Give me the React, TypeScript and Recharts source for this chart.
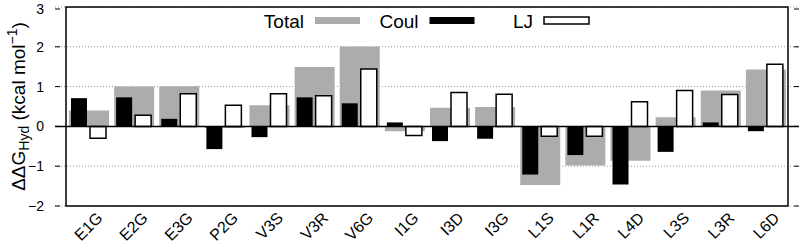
import {
    ComposedChart,
    Bar,
    XAxis,
    YAxis,
    CartesianGrid,
    ReferenceLine,
    ReferenceArea,
    Legend,
    Label
} from 'recharts';

const categories = ['E1G', 'E2G', 'E3G', 'P2G', 'V3S', 'V3R', 'V6G', 'I1G', 'I3D', 'I3G', 'L1S', 'L1R', 'L4D', 'L3S', 'L3R', 'L6D'];
const total = [0.40, 1.00, 1.01, -0.04, 0.53, 1.49, 2.01, -0.12, 0.47, 0.49, -1.47, -0.98, -0.86, 0.23, 0.90, 1.43];
const coul = [0.71, 0.73, 0.19, -0.57, -0.27, 0.73, 0.58, 0.10, -0.37, -0.31, -1.21, -0.72, -1.46, -0.64, 0.10, -0.12];
const lj = [-0.30, 0.28, 0.82, 0.53, 0.82, 0.77, 1.44, -0.23, 0.85, 0.81, -0.25, -0.25, 0.62, 0.90, 0.80, 1.56];
const yTicks = [-2, -1, 0, 1, 2, 3];

const data = categories.map((name, i) => ({ name, total: total[i], coul: coul[i], lj: lj[i] }));

const FONT = '"Liberation Sans", Arial, Helvetica, sans-serif';
const GRAY = '#acacac';

const legendItems = [
    { label: 'Total', fill: GRAY, stroke: 'none' },
    { label: 'Coul', fill: '#000', stroke: 'none' },
    { label: 'LJ', fill: '#fff', stroke: '#000' }
];

function KeyBox() {
    return (
        <svg width={802} height={40} style={{ display: 'block' }}>
            {legendItems.map((item, i) => {
                const end = 304 + i * 114.5;
                return (
                    <g key={item.label}>
                        <text x={end} y={28} textAnchor="end" fontSize={19} fontFamily={FONT} fill="#000">
                            {item.label}
                        </text>
                        <rect x={end + 11} y={17} width={45} height={7} fill={item.fill} stroke={item.stroke} strokeWidth={1.5} />
                    </g>
                );
            })}
        </svg>
    );
}

// rotated category label, its end sits just right of and below the bar group centre
function CategoryTick(props: any) {
    const { x, y, payload } = props;
    return (
        <g transform={`translate(${x + 15},${y + 13}) rotate(-45)`}>
            <text x={0} y={0} textAnchor="end" fontSize={16} fontFamily={FONT} fill="#000">
                {payload.value}
            </text>
        </g>
    );
}

// label left of the frame plus a short tick pointing into the plot
function LeftTick(props: any) {
    const { x, y, payload } = props;
    return (
        <g transform={`translate(${x},${y})`}>
            <line x1={11} x2={16} y1={0} y2={0} stroke="#000" strokeWidth={1} />
            <text x={0} y={5} textAnchor="end" fontSize={14} fontFamily={FONT} fill="#000">
                {String(payload.value).replace('-', '−')}
            </text>
        </g>
    );
}

function RightTick({ x, y }: any) {
    return <line x1={x - 5} x2={x} y1={y} y2={y} stroke="#000" strokeWidth={1} />;
}

function YTitle({ viewBox }: any) {
    const cx = 18;
    const cy = viewBox.y + viewBox.height / 2;
    return (
        <g transform={`translate(${cx},${cy}) rotate(-90)`}>
            <text x={0} y={7} textAnchor="middle" fontSize={19} fontFamily={FONT} fill="#000">
                ΔΔG
                <tspan dy={4} fontSize={14}>Hyd</tspan>
                <tspan dy={-4}> (kcal mol</tspan>
                <tspan dy={-8} fontSize={14}>−1</tspan>
                <tspan dy={8}>)</tspan>
            </text>
        </g>
    );
}

export default function App() {
    return (
        <div style={{ position: 'absolute', left: 0, top: 0, width: 802, height: 245, background: '#fff' }}>
            <ComposedChart
                width={802}
                height={245}
                data={data}
                margin={{ top: 7, right: 0, left: 0, bottom: 0 }}
                barGap={3}
            >
                <CartesianGrid vertical={false} stroke="#999" strokeDasharray="1 2" yAxisId="left" xAxisId="total" />
                <XAxis
                    xAxisId="total"
                    dataKey="name"
                    height={39}
                    padding={{ left: 11, right: 11 }}
                    tickLine={false}
                    tickSize={0}
                    tickMargin={0}
                    axisLine={false}
                    tick={<CategoryTick />}
                    interval={0}
                />
                <XAxis
                    xAxisId="parts"
                    dataKey="name"
                    orientation="top"
                    height={0}
                    padding={{ left: 11, right: 11 }}
                    tick={false}
                    tickLine={false}
                    axisLine={false}
                />
                <YAxis
                    yAxisId="left"
                    type="number"
                    domain={[-2, 3]}
                    ticks={yTicks}
                    allowDataOverflow
                    width={55}
                    tickSize={0}
                    tickMargin={11}
                    tickLine={false}
                    axisLine={false}
                    tick={<LeftTick />}
                >
                    <Label content={<YTitle />} />
                </YAxis>
                <YAxis
                    yAxisId="right"
                    orientation="right"
                    type="number"
                    domain={[-2, 3]}
                    ticks={yTicks}
                    allowDataOverflow
                    width={3}
                    tickSize={0}
                    tickMargin={0}
                    tick={<RightTick />}
                    tickLine={false}
                    axisLine={false}
                />
                <Legend
                    layout="horizontal"
                    verticalAlign="middle"
                    wrapperStyle={{ position: 'absolute', left: 0, top: 0, width: 802, height: 40 }}
                    content={<KeyBox />}
                />
                <Bar xAxisId="total" yAxisId="left" dataKey="total" fill={GRAY} barSize={40} isAnimationActive={false} />
                <Bar xAxisId="parts" yAxisId="left" dataKey="coul" fill="#000" barSize={16} isAnimationActive={false} />
                <Bar xAxisId="parts" yAxisId="left" dataKey="lj" fill="#fff" stroke="#000" strokeWidth={1.5} barSize={16} isAnimationActive={false} />
                <ReferenceLine xAxisId="total" yAxisId="left" y={0} stroke="#000" strokeWidth={1.5} />
                <ReferenceArea
                    xAxisId="total"
                    yAxisId="left"
                    y1={-2}
                    y2={3}
                    fill="none"
                    fillOpacity={0}
                    stroke="#000"
                    strokeWidth={1.5}
                    ifOverflow="visible"
                />
            </ComposedChart>
        </div>
    );
}
